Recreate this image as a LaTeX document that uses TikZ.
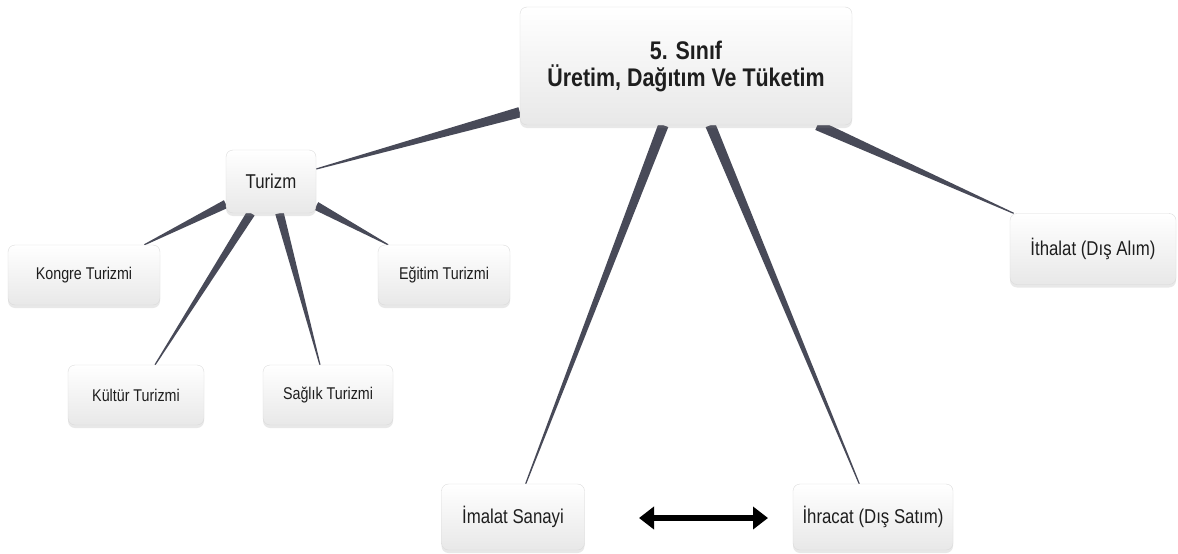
\documentclass[tikz,border=0pt]{standalone}
\usepackage{fontspec}
\setmainfont[FakeStretch=0.84]{Liberation Sans}
\usetikzlibrary{calc,shadows,arrows.meta}
\pgfdeclarelayer{bg}\pgfsetlayers{bg,main}
\definecolor{edgec}{HTML}{484a58}
\definecolor{txt}{HTML}{1e1e1e}
\tikzset{
 box/.style={rounded corners=7pt, draw=black!14, top color=white, bottom color=black!9,
   text=txt, align=center, inner sep=0pt,
   drop shadow={shadow xshift=0pt, shadow yshift=-3pt, opacity=0.18},
   font=\fontsize{17}{20}\selectfont},
 big/.style={font=\fontsize{20}{24}\selectfont},
 rootfont/.style={font=\fontsize{25.5}{27}\selectfont\bfseries},
 conn/.style={fill=edgec},
 dblarrow/.style={line width=6.5pt, draw=black, {Triangle[length=15pt,width=22pt]}-{Triangle[length=15pt,width=22pt]}},
}
\newcommand\taper[3]{%
  \path (#1) -- (#2) coordinate[pos=0] (ts) coordinate[pos=1] (te);
  \fill[conn] ($(ts)!#3!90:(te)$) -- ($(te)!0.6pt!-90:(ts)$) -- ($(te)!0.6pt!90:(ts)$) -- ($(ts)!#3!-90:(te)$) -- cycle;
}
\begin{document}
\begin{tikzpicture}[x=1pt,y=-1pt]
\useasboundingbox (0,0) rectangle (1178,554);
\node[box,rootfont,minimum width=332pt,minimum height=118pt] (root) at (686,66) {5. S\i n\i f\\Üretim, Dağıtım Ve Tüketim};
\node[box,big,minimum width=90pt,minimum height=63pt] (tur) at (271,181.5) {Turizm};
\node[box,minimum width=152pt,minimum height=60pt] (kon) at (84,275) {Kongre Turizmi};
\node[box,minimum width=132pt,minimum height=60pt] (egi) at (444,275) {Eğitim Turizmi};
\node[box,minimum width=136pt,minimum height=60pt] (kul) at (136,395) {Kültür Turizmi};
\node[box,minimum width=130pt,minimum height=60pt] (sag) at (328,395) {Sağlık Turizmi};
\node[box,big,minimum width=143pt,minimum height=66pt] (ima) at (513,517) {İmalat Sanayi};
\node[box,big,minimum width=160pt,minimum height=66pt] (ihr) at (873,517) {İhracat (D\i ş Sat\i m)};
\node[box,big,minimum width=166pt,minimum height=71pt] (ith) at (1093,249) {İthalat (D\i ş Al\i m)};
\coordinate (al) at (639,518);
\coordinate (ar) at (768,518);
\draw[dblarrow] (al) -- (ar);
\begin{pgfonlayer}{bg}
\taper{root}{tur}{5.2pt}
\taper{root}{ima}{5.2pt}
\taper{root}{ihr}{5.2pt}
\taper{root}{ith}{5.2pt}
\taper{tur}{kon}{4.3pt}
\taper{tur}{kul}{4.3pt}
\taper{tur}{sag}{4.3pt}
\taper{tur}{egi}{4.3pt}
\end{pgfonlayer}
\end{tikzpicture}
\end{document}
